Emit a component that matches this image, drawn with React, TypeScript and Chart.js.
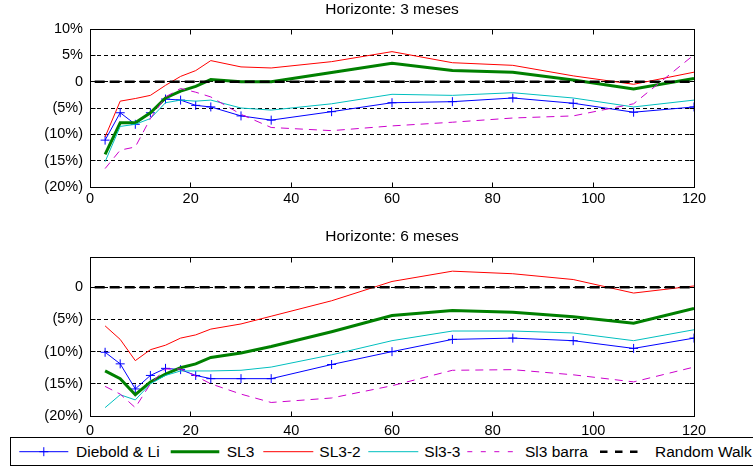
import React, { useEffect, useRef } from 'react';
import { Chart, registerables } from 'chart.js';

Chart.register(...registerables);

// ---------- data ----------
const MATURITIES = [3, 6, 9, 12, 15, 18, 21, 24, 30, 36, 48, 60, 72, 84, 96, 108, 120];
const RW_X = [0, 120];
const RW_Y = [0, 0];

const SERIES_NAMES = ['Diebold & Li', 'SL3', 'SL3-2', 'Sl3-3', 'Sl3 barra', 'Random Walk'];

// Horizonte: 3 meses (%)
const DL_3M = [-11.1, -5.9, -8.1, -5.9, -3.3, -3.5, -4.5, -4.8, -6.5, -7.3, -5.7, -4.0, -3.8, -3.1, -4.1, -5.8, -4.8];
const SL3_3M = [-13.8, -7.8, -7.8, -5.9, -3.1, -1.8, -0.9, 0.4, 0.0, 0.0, 1.75, 3.5, 2.1, 1.8, 0.3, -1.4, 0.6];
const SL3_2_3M = [-10.5, -3.7, -3.2, -2.6, -0.7, 1.0, 2.1, 4.0, 2.8, 2.6, 3.8, 5.7, 3.6, 3.1, 1.1, -0.5, 1.8];
const SL3_3_3M = [-15.2, -8.5, -8.1, -7.0, -4.0, -3.5, -3.7, -3.5, -5.0, -5.4, -4.2, -2.4, -2.6, -2.1, -3.1, -4.8, -3.5];
const BARRA_3M = [-16.5, -13.0, -12.4, -7.0, -2.9, -1.3, -2.0, -2.9, -6.2, -8.7, -9.3, -8.4, -7.7, -6.9, -6.5, -4.2, 5.1];

// Horizonte: 6 meses (%)
const DL_6M = [-10.1, -11.9, -15.8, -13.7, -12.6, -12.8, -13.7, -14.2, -14.2, -14.2, -12.0, -10.0, -8.1, -7.9, -8.3, -9.5, -7.9];
const SL3_6M = [-13.0, -14.2, -16.7, -14.7, -13.5, -12.5, -11.9, -10.9, -10.2, -9.2, -6.9, -4.4, -3.6, -3.9, -4.6, -5.6, -3.3];
const SL3_2_6M = [-6.0, -8.1, -11.4, -9.7, -9.0, -7.9, -7.4, -6.5, -5.7, -4.5, -2.1, 0.9, 2.5, 2.1, 1.2, -0.9, 0.2];
const SL3_3_6M = [-18.7, -16.7, -17.5, -15.0, -13.7, -13.0, -13.0, -13.0, -12.9, -12.4, -10.5, -8.3, -6.8, -6.8, -7.1, -8.3, -6.6];
const BARRA_6M = [-15.4, -16.6, -18.7, -15.0, -12.7, -12.7, -13.8, -15.0, -16.6, -17.9, -17.2, -15.3, -12.9, -12.8, -13.6, -14.7, -12.4];

const X_TICKS = [0, 20, 40, 60, 80, 100, 120];
const Y_TICKS_3M = [10, 5, 0, -5, -10, -15, -20];
const Y_TICK_LABELS_3M = ['10%', '5%', '0', '(5%)', '(10%)', '(15%)', '(20%)'];
const Y_TICKS_6M = [0, -5, -10, -15, -20];
const Y_TICK_LABELS_6M = ['0', '(5%)', '(10%)', '(15%)', '(20%)'];

const TITLE_3M = 'Horizonte: 3 meses';
const TITLE_6M = 'Horizonte: 6 meses';

// ---------- styles ----------
const FONT_FAMILY = '"Liberation Sans", Arial, Helvetica, sans-serif';
const STYLES = [
  { color: '#0000ff', width: 1, dash: [] as number[], offset: 0 },
  { color: '#008000', width: 3, dash: [] as number[], offset: 0 },
  { color: '#ff0000', width: 1, dash: [] as number[], offset: 0 },
  { color: '#00bfbf', width: 1, dash: [] as number[], offset: 0 },
  { color: '#cc00cc', width: 1, dash: [8, 6], offset: 0 },
  { color: '#000000', width: 2.5, dash: [10, 5], offset: 10.3 },
];

function buildDatasets(series: number[][]) {
  const ds: any[] = series.map((ys, i) => ({
    label: SERIES_NAMES[i],
    data: MATURITIES.map((x, j) => ({ x, y: ys[j] })),
    borderColor: STYLES[i].color,
    backgroundColor: STYLES[i].color,
    borderWidth: STYLES[i].width,
    borderDash: STYLES[i].dash,
    borderDashOffset: STYLES[i].offset,
    tension: 0,
    fill: false,
    pointStyle: i === 0 ? 'cross' : 'circle',
    pointRadius: i === 0 ? 4.5 : 0,
    pointBorderWidth: 1,
    pointBorderColor: STYLES[i].color,
    order: 5 - i,
  }));
  ds.push({
    label: SERIES_NAMES[5],
    data: RW_X.map((x, j) => ({ x, y: RW_Y[j] })),
    borderColor: STYLES[5].color,
    borderWidth: STYLES[5].width,
    borderDash: STYLES[5].dash,
    borderDashOffset: STYLES[5].offset,
    pointRadius: 0,
    fill: false,
    order: 0,
  });
  return ds;
}

const frameTitlePlugin = {
  id: 'frameTitle',
  afterDraw(chart: any, _args: any, opts: any) {
    const { ctx, chartArea: a, scales } = chart;
    const al = (p: number) => Math.round(p - 0.5) + 0.5;
    const x0 = al(a.left), x1 = al(a.right), y0 = al(a.top), y1 = al(a.bottom);
    ctx.save();
    ctx.setLineDash([]);
    ctx.strokeStyle = '#000';
    ctx.lineWidth = 1;
    ctx.strokeRect(x0, y0, x1 - x0, y1 - y0);
    const tl = 5;
    ctx.beginPath();
    for (const v of X_TICKS) {
      const px = al(scales.x.getPixelForValue(v));
      if (px <= x0 + 1 || px >= x1 - 1) continue;
      ctx.moveTo(px, y1); ctx.lineTo(px, y1 - tl);
      ctx.moveTo(px, y0); ctx.lineTo(px, y0 + tl);
    }
    for (const t of scales.y.ticks) {
      const py = al(scales.y.getPixelForValue(t.value));
      if (py <= y0 + 1 || py >= y1 - 1) continue;
      ctx.moveTo(x0, py); ctx.lineTo(x0 + tl, py);
      ctx.moveTo(x1, py); ctx.lineTo(x1 - tl, py);
    }
    ctx.stroke();
    if (opts && opts.text) {
      ctx.fillStyle = '#000';
      ctx.font = `15.5px ${FONT_FAMILY}`;
      ctx.textAlign = 'center';
      ctx.textBaseline = 'middle';
      ctx.fillText(opts.text, (a.left + a.right) / 2, a.top - opts.offset);
    }
    ctx.restore();
  },
};

function makeConfig(opts: {
  series: number[][];
  yMin: number;
  yMax: number;
  yTicks: number[];
  yLabels: string[];
  title: string;
  titleOffset: number;
  padTop: number;
  xAxisHeight: number;
  xPad: number;
}): any {
  const tickFont = { family: FONT_FAMILY, size: 14.5 };
  return {
    type: 'line',
    data: { datasets: buildDatasets(opts.series) },
    plugins: [frameTitlePlugin],
    options: {
      animation: false,
      responsive: false,
      maintainAspectRatio: false,
      events: [],
      layout: { padding: { left: 0, top: opts.padTop, right: 59, bottom: 0 } },
      plugins: {
        legend: { display: false },
        tooltip: { enabled: false },
        title: { display: false },
        frameTitle: { text: opts.title, offset: opts.titleOffset },
      },
      scales: {
        x: {
          type: 'linear',
          min: 0,
          max: 120,
          afterBuildTicks: (s: any) => { s.ticks = X_TICKS.map((v) => ({ value: v })); },
          afterFit: (s: any) => { s.height = opts.xAxisHeight; },
          grid: { display: false, drawTicks: false },
          border: { display: false },
          ticks: { padding: opts.xPad, color: '#000', font: tickFont, maxRotation: 0, autoSkip: false },
        },
        y: {
          type: 'linear',
          min: opts.yMin,
          max: opts.yMax,
          afterBuildTicks: (s: any) => { s.ticks = opts.yTicks.map((v) => ({ value: v })); },
          afterFit: (s: any) => { s.width = 90; },
          grid: { color: '#000', lineWidth: 1, drawTicks: false },
          border: { display: false, dash: [4, 3] },
          ticks: {
            padding: 7,
            color: '#000',
            font: tickFont,
            autoSkip: false,
            callback: (v: number) => {
              const i = opts.yTicks.indexOf(v);
              return i >= 0 ? opts.yLabels[i] : '';
            },
          },
        },
      },
    },
  };
}

// ---------- legend layout ----------
const LEGEND_SWATCH_X = [[19.3, 68.3], [170.7, 219.3], [263.3, 313.3], [368.3, 418.3], [467.3, 516.7], [600, 645]];
const LEGEND_LEGEND_DASH = [[], [], [], [], [5, 8.5], [7.5, 7.5]];
const LEGEND_TEXT_X = [76, 226.7, 319.3, 424.3, 525, 655];

function Legend() {
  const lineY = 451.7 - 437;
  return (
    <div
      style={{
        position: 'absolute',
        left: 10,
        top: 437,
        width: 780,
        height: 29,
        boxSizing: 'border-box',
        border: '1px solid #000',
        background: '#fff',
      }}
    >
      <svg width={780} height={29} style={{ position: 'absolute', left: -11, top: -1 }}>
        {SERIES_NAMES.map((_, i) => {
          const [a, b] = LEGEND_SWATCH_X[i];
          return (
            <g key={i}>
              <line
                x1={a}
                x2={b}
                y1={lineY}
                y2={lineY}
                stroke={STYLES[i].color}
                strokeWidth={STYLES[i].width}
                strokeDasharray={LEGEND_LEGEND_DASH[i].length ? LEGEND_LEGEND_DASH[i].join(' ') : undefined}
              />
              {i === 0 && (
                <g stroke={STYLES[0].color} strokeWidth={1}>
                  <line x1={(a + b) / 2 - 4.5} x2={(a + b) / 2 + 4.5} y1={lineY} y2={lineY} />
                  <line x1={(a + b) / 2} x2={(a + b) / 2} y1={lineY - 4.5} y2={lineY + 4.5} />
                </g>
              )}
            </g>
          );
        })}
      </svg>
      {SERIES_NAMES.map((name, i) => (
        <span
          key={name}
          style={{
            position: 'absolute',
            left: LEGEND_TEXT_X[i] - 11,
            top: -1,
            height: 29,
            lineHeight: '29px',
            fontFamily: FONT_FAMILY,
            fontSize: '15.5px',
            color: '#000',
            whiteSpace: 'nowrap',
          }}
        >
          {name}
        </span>
      ))}
    </div>
  );
}

export default function App() {
  const topRef = useRef<HTMLCanvasElement | null>(null);
  const botRef = useRef<HTMLCanvasElement | null>(null);

  useEffect(() => {
    const c1 = new Chart(
      topRef.current as HTMLCanvasElement,
      makeConfig({
        series: [DL_3M, SL3_3M, SL3_2_3M, SL3_3_3M, BARRA_3M],
        yMin: -20,
        yMax: 10,
        yTicks: Y_TICKS_3M,
        yLabels: Y_TICK_LABELS_3M,
        title: TITLE_3M,
        titleOffset: 19,
        padTop: 29,
        xAxisHeight: 28,
        xPad: 3,
      })
    );
    const c2 = new Chart(
      botRef.current as HTMLCanvasElement,
      makeConfig({
        series: [DL_6M, SL3_6M, SL3_2_6M, SL3_3_6M, BARRA_6M],
        yMin: -20,
        yMax: 4.7,
        yTicks: Y_TICKS_6M,
        yLabels: Y_TICK_LABELS_6M,
        title: TITLE_6M,
        titleOffset: 20,
        padTop: 32,
        xAxisHeight: 21,
        xPad: 6,
      })
    );
    return () => {
      c1.destroy();
      c2.destroy();
    };
  }, []);

  return (
    <div
      style={{
        position: 'fixed',
        left: 0,
        top: 0,
        width: 753,
        height: 467,
        overflow: 'hidden',
        background: '#fff',
      }}
    >
      <canvas ref={topRef} width={753} height={215} style={{ position: 'absolute', left: 0, top: 0, width: 753, height: 215 }} />
      <canvas ref={botRef} width={753} height={212} style={{ position: 'absolute', left: 0, top: 225, width: 753, height: 212 }} />
      <Legend />
    </div>
  );
}
